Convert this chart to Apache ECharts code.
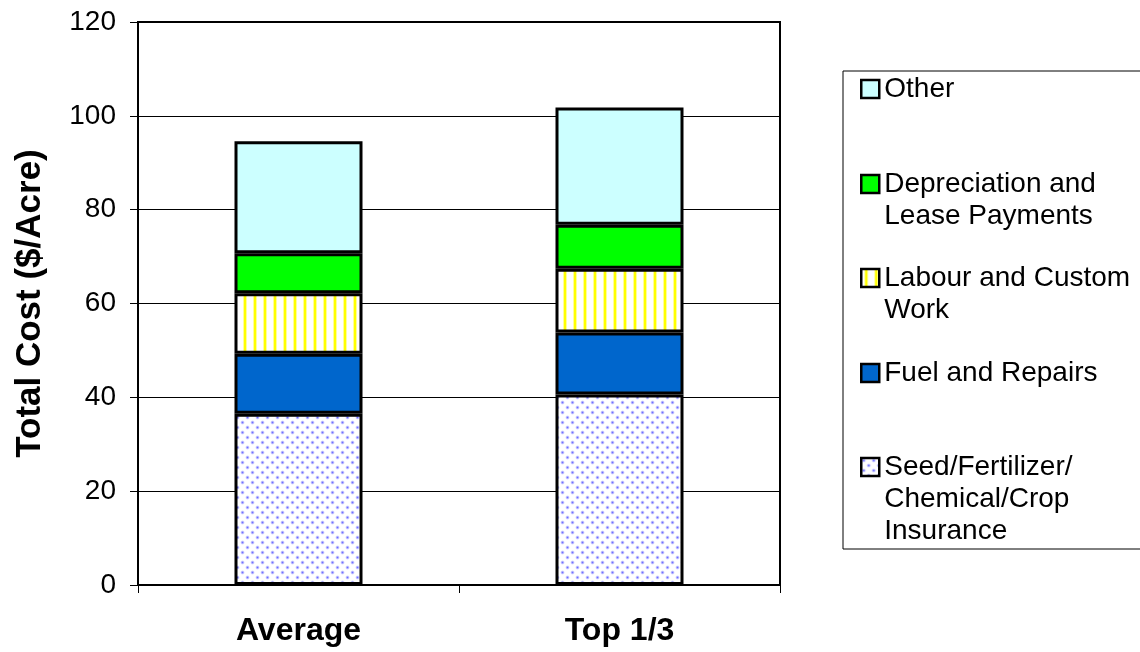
<!DOCTYPE html>
<html>
<head>
<meta charset="utf-8">
<title>Total Cost per Acre</title>
<script src="https://cdn.jsdelivr.net/npm/echarts@6/dist/echarts.min.js"></script>
<style>
  html, body { margin: 0; padding: 0; background: #ffffff; }
  #chart { width: 1140px; height: 652px; }
</style>
</head>
<body>
<div id="chart"></div>
<script>
// ---- data ($/acre) ----
const categories = ['Average', 'Top 1/3'];
const seedFertChem = [36.5, 40.6];
const fuelRepairs = [12.8, 13.2];
const labourCustom = [12.9, 13.6];
const deprecLease = [8.5, 9.4];
const otherCosts = [23.9, 25.0];
const yAxisMin = 0;
const yAxisMax = 120;
const yAxisStep = 20;

// ---- fill patterns ----
function makeTile(w, h, draw) {
  const c = document.createElement('canvas');
  c.width = w; c.height = h;
  const ctx = c.getContext('2d');
  ctx.fillStyle = '#ffffff';
  ctx.fillRect(0, 0, w, h);
  draw(ctx);
  return c;
}
const dotTile = makeTile(10, 10, function (ctx) {
  [[2.5, 2.5], [7.5, 7.5]].forEach(function (p) {
    const g = ctx.createRadialGradient(p[0], p[1], 0, p[0], p[1], 2.4);
    g.addColorStop(0, 'rgba(110,110,255,1)');
    g.addColorStop(0.5, 'rgba(150,150,255,0.7)');
    g.addColorStop(1, 'rgba(210,210,255,0)');
    ctx.fillStyle = g;
    ctx.fillRect(p[0] - 2.5, p[1] - 2.5, 5, 5);
  });
});
const stripeTile = makeTile(10, 10, function (ctx) {
  ctx.fillStyle = '#ffff9a';
  ctx.fillRect(3, 0, 4, 10);
  ctx.fillStyle = '#ffff00';
  ctx.fillRect(4, 0, 2, 10);
});
const dotFill = { image: dotTile, repeat: 'repeat' };
const stripeFill = { image: stripeTile, repeat: 'repeat' };

const FONT = '"Liberation Sans", Arial, sans-serif';

// stacked segments, bottom to top
const seriesDefs = [
  { name: 'Seed/Fertilizer/Chemical/Crop Insurance', lines: ['Seed/Fertilizer/', 'Chemical/Crop', 'Insurance'], data: seedFertChem, color: dotFill, iconY: 467 },
  { name: 'Fuel and Repairs', lines: ['Fuel and Repairs'], data: fuelRepairs, color: '#0066cc', iconY: 373 },
  { name: 'Labour and Custom Work', lines: ['Labour and Custom', 'Work'], data: labourCustom, color: stripeFill, iconY: 278 },
  { name: 'Depreciation and Lease Payments', lines: ['Depreciation and', 'Lease Payments'], data: deprecLease, color: '#00ff00', iconY: 184 },
  { name: 'Other', lines: ['Other'], data: otherCosts, color: '#ccffff', iconY: 89 }
];

const LINE_H = 32;
const ICON = 18;

const series = seriesDefs.map(function (d) {
  return {
    name: d.name,
    type: 'bar',
    stack: 'cost',
    barWidth: 128,
    data: d.data,
    itemStyle: { color: d.color, borderColor: '#000000', borderWidth: 3 },
    emphasis: { disabled: true }
  };
});

// one legend block per entry so each icon lines up with the first text line
const legends = seriesDefs.map(function (d) {
  const n = d.lines.length;
  const total = 2 * n - 1;
  const padLines = new Array(n - 1).fill('');
  return {
    data: [d.name],
    orient: 'vertical',
    left: 860,
    top: d.iconY - total * LINE_H / 2,
    padding: 0,
    itemWidth: ICON,
    itemHeight: ICON,
    icon: 'rect',
    selectedMode: false,
    itemStyle: { borderColor: '#000000', borderWidth: 2.5 },
    formatter: function () { return padLines.concat(d.lines).join('\n'); },
    textStyle: { fontFamily: FONT, fontSize: 28, color: '#000000', lineHeight: LINE_H }
  };
});

const chart = echarts.init(document.getElementById('chart'), null, { renderer: 'canvas' });
chart.setOption({
  backgroundColor: '#ffffff',
  animation: false,
  grid: {
    left: 138, right: 360, top: 22, bottom: 67,
    show: true, borderColor: '#000000', borderWidth: 2, backgroundColor: 'transparent'
  },
  legend: legends,
  xAxis: {
    type: 'category',
    data: categories,
    axisLine: { lineStyle: { color: '#000000', width: 2 } },
    axisTick: { show: true, length: 8, lineStyle: { color: '#000000', width: 1 } },
    axisLabel: { margin: 30, fontFamily: FONT, fontSize: 32, fontWeight: 'bold', color: '#000000' }
  },
  yAxis: {
    type: 'value',
    min: yAxisMin, max: yAxisMax, interval: yAxisStep,
    name: 'Total Cost ($/Acre)',
    nameLocation: 'middle',
    nameRotate: 90,
    nameGap: 90,
    nameTextStyle: { fontFamily: FONT, fontSize: 35, fontWeight: 'bold', color: '#000000' },
    axisLine: { show: true, lineStyle: { color: '#000000', width: 2 } },
    axisTick: { show: true, length: 8, lineStyle: { color: '#000000', width: 1 } },
    axisLabel: { margin: 22, fontFamily: FONT, fontSize: 28, color: '#000000' },
    splitLine: { show: true, lineStyle: { color: '#000000', width: 1 } }
  },
  graphic: [{
    type: 'rect',
    shape: { x: 843, y: 71, width: 320, height: 478 },
    style: { fill: 'none', stroke: '#000000', lineWidth: 1 },
    silent: true,
    z: -1
  }],
  series: series
});
</script>
</body>
</html>
